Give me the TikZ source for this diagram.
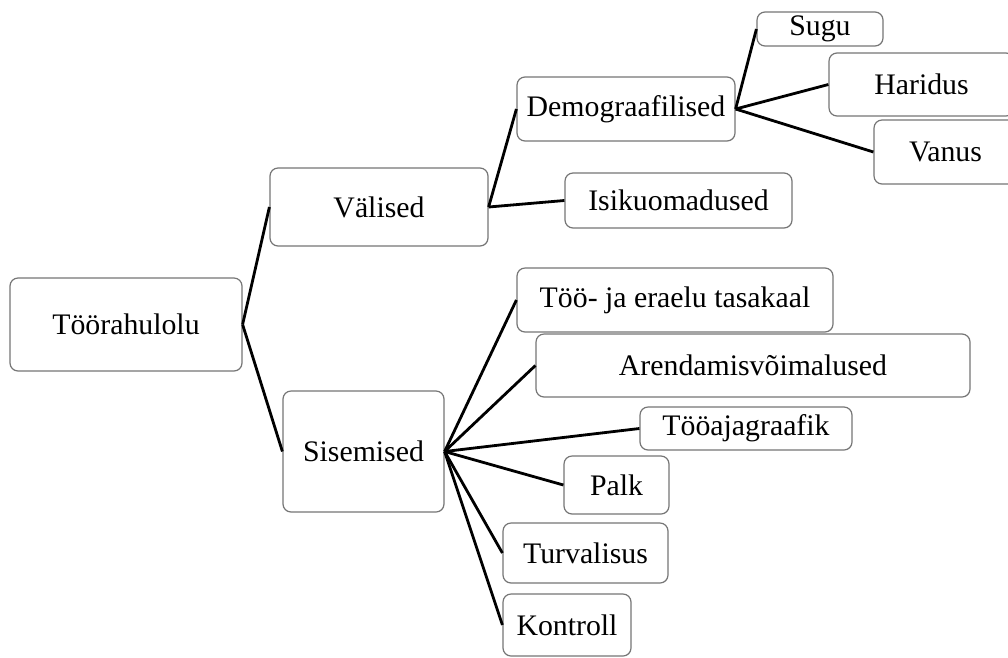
\documentclass[tikz,border=0pt]{standalone}
\usepackage{fontspec}
\setmainfont{Liberation Serif}
\definecolor{boxgray}{RGB}{118,118,118}
\begin{document}
\begin{tikzpicture}[x=1pt,y=-1pt,
  box/.style={draw=boxgray, line width=1.2pt, rounded corners=8pt, inner sep=0pt,
    font=\fontsize{29.8}{35}\selectfont, text=black, fill=white},
  link/.style={line width=2.8pt, black}]
\clip (0,0) rectangle (1008,657);
\fill[white] (0,0) rectangle (1008,657);
\node[box, minimum width=232pt, minimum height=93pt] (T) at (126,324.5) {Töörahulolu};
\node[box, minimum width=218pt, minimum height=78pt] (V) at (379,207) {Välised};
\node[box, minimum width=161pt, minimum height=121pt] (S) at (363.5,451.5) {Sisemised};
\node[box, minimum width=218pt, minimum height=64pt] (D) at (626,109) {Demograafilised};
\node[box, minimum width=227pt, minimum height=55pt] (I) at (678.5,200.5) {Isikuomadused};
\node[box, minimum width=126pt, minimum height=34pt] (Su) at (820,29) {Sugu};
\node[box, minimum width=185pt, minimum height=63pt] (H) at (921.5,84.5) {Haridus};
\node[box, minimum width=143pt, minimum height=64pt] (Va) at (945.5,152) {Vanus};
\node[box, minimum width=316pt, minimum height=64pt] (TE) at (675,300) {Töö- ja eraelu tasakaal};
\node[box, minimum width=434pt, minimum height=63pt] (A) at (753,365.5) {Arendamisvõimalused};
\node[box, minimum width=212pt, minimum height=43pt] (TG) at (746,428.5) {Tööajagraafik};
\node[box, minimum width=105pt, minimum height=58pt] (P) at (616.5,485) {Palk};
\node[box, minimum width=165pt, minimum height=60pt] (Tu) at (585.5,553) {Turvalisus};
\node[box, minimum width=128pt, minimum height=62pt] (K) at (567,625) {Kontroll};
\draw[link] (T.east) -- (V.west);
\draw[link] (T.east) -- (S.west);
\draw[link] (V.east) -- (D.west);
\draw[link] (V.east) -- (I.west);
\draw[link] (D.east) -- (Su.west);
\draw[link] (D.east) -- (H.west);
\draw[link] (D.east) -- (Va.west);
\foreach \n in {TE,A,TG,P,Tu,K} \draw[link] (S.east) -- (\n.west);
\end{tikzpicture}
\end{document}
